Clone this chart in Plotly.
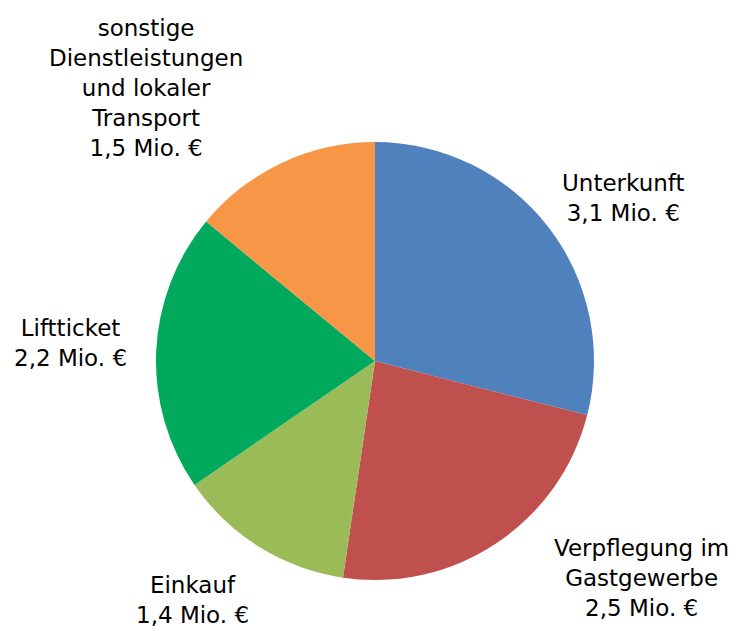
import plotly.graph_objects as go

labels = ["Unterkunft", "Verpflegung im Gastgewerbe", "Einkauf", "Liftticket",
          "sonstige Dienstleistungen und lokaler Transport"]
values = [3.1, 2.5, 1.4, 2.2, 1.5]
colors = ["#4F81BD", "#C0504D", "#9BBB59", "#00A95C", "#F79646"]
label_texts = ["Unterkunft<br>3,1 Mio. €",
               "Verpflegung im<br>Gastgewerbe<br>2,5 Mio. €",
               "Einkauf<br>1,4 Mio. €",
               "Liftticket<br>2,2 Mio. €",
               "sonstige<br>Dienstleistungen<br>und lokaler<br>Transport<br>1,5 Mio. €"]
label_pos = [(623, 198), (641, 578), (192, 600), (70, 343), (146, 88)]

W, H = 736, 631
cx, cy, r = 375, 361, 219
fig = go.Figure(go.Pie(
    labels=labels, values=values, sort=False, direction="clockwise", rotation=0,
    marker=dict(colors=colors, line=dict(width=0)),
    textinfo="none", hoverinfo="label+value", showlegend=False,
    domain=dict(x=[(cx - r) / W, (cx + r) / W], y=[(H - cy - r) / H, (H - cy + r) / H]),
))
for t, (x, y) in zip(label_texts, label_pos):
    fig.add_annotation(text=t, x=x / W, y=1 - y / H, xref="paper", yref="paper",
                       xanchor="center", yanchor="middle", showarrow=False,
                       align="center", font=dict(size=23, color="#000000", family="DejaVu Sans"))
fig.update_layout(width=W, height=H, margin=dict(l=0, r=0, t=0, b=0),
                  paper_bgcolor="white", plot_bgcolor="white")
fig.write_html("out.html")
